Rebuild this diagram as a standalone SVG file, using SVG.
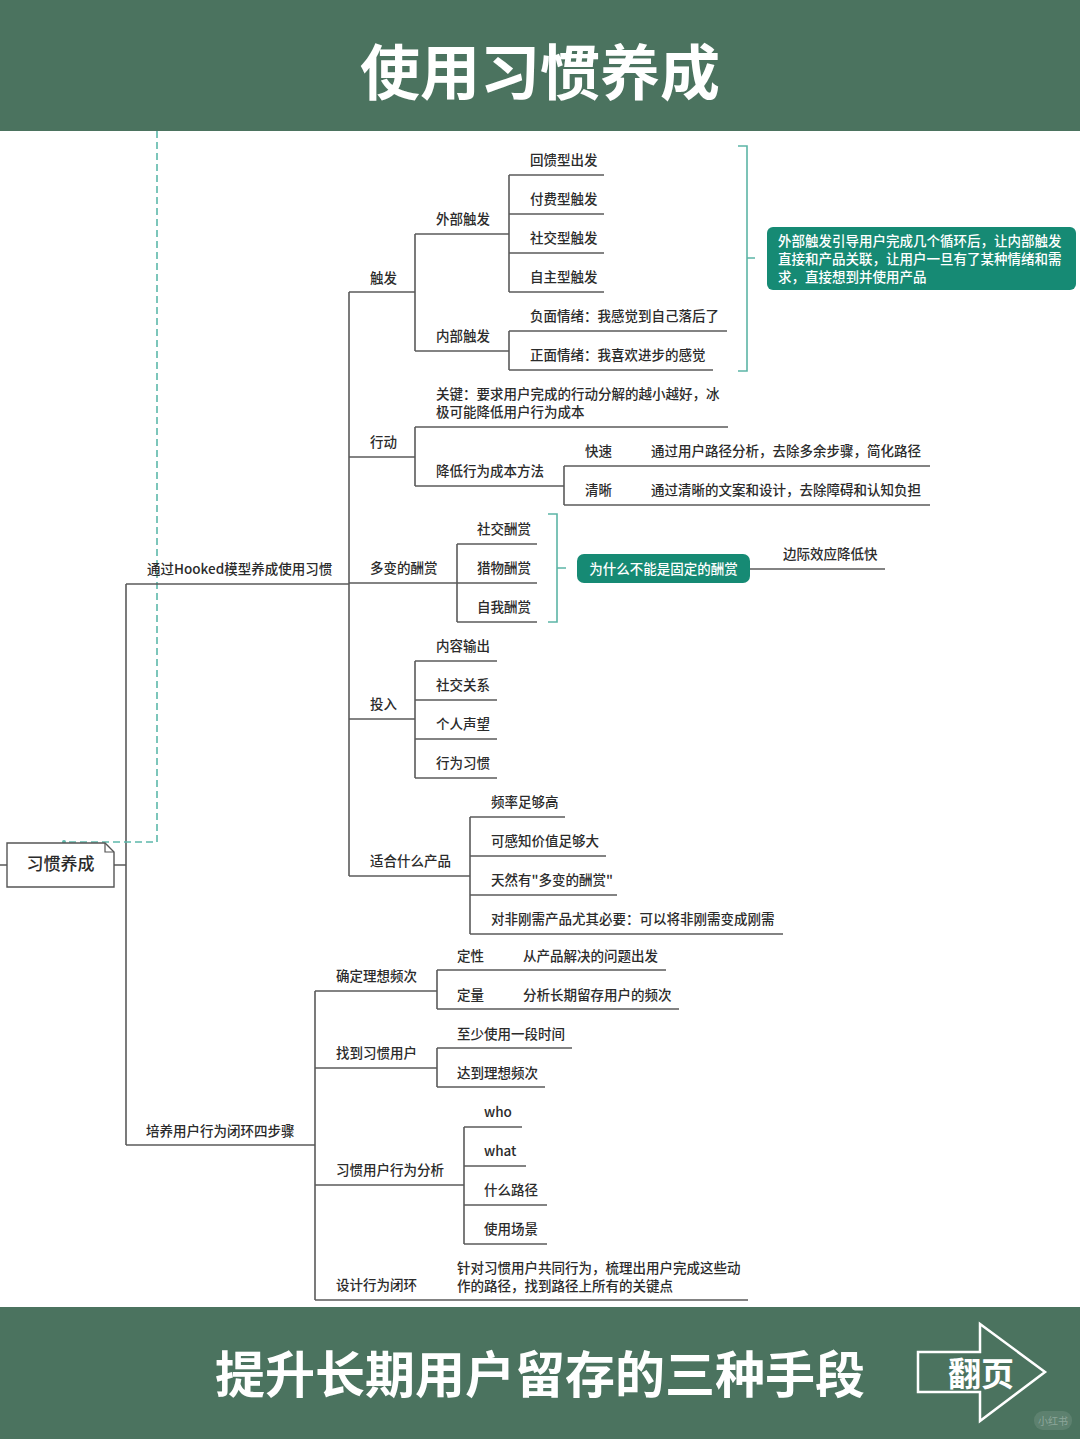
<svg xmlns="http://www.w3.org/2000/svg" width="1080" height="1439" viewBox="0 0 1080 1439">
<style>
.t{font-family:"Noto Sans CJK SC","Noto Sans",sans-serif;font-size:13.5px;fill:#2b2b2b;font-weight:500}
.w{font-family:"Noto Sans CJK SC","Noto Sans",sans-serif;font-size:13.5px;fill:#ffffff;font-weight:500}
.ln{stroke:#5a5a5a;stroke-width:1.6;fill:none}
.br{stroke:#5cb5a6;stroke-width:1.6;fill:none}
.hd{font-family:"Noto Sans CJK SC","Noto Sans",sans-serif;font-weight:700;fill:#ffffff;text-anchor:middle}
</style>
<rect x="0" y="0" width="1080" height="1439" fill="#ffffff"/>
<!-- header -->
<g id="header">
<rect x="0" y="0" width="1080" height="131" fill="#4b735f"/>
<text class="hd" x="540" y="95" font-size="60">使用习惯养成</text>
</g>
<!-- connectors -->
<g id="connectors">
<path class="ln" d="M0 865H7M114 865H126M126 584V1145"/>
<path class="ln" d="M349 292V876"/>
<path class="ln" d="M415 234V351M509 175V292M509 331V370"/>
<path class="ln" d="M415 427V486M564 466V505"/>
<path class="ln" d="M457 544V622"/>
<path class="ln" d="M415 661V778"/>
<path class="ln" d="M470 817V934"/>
<path class="ln" d="M315 991V1300M437 970V1009M437 1048V1087M464 1127V1244"/>
<path class="ln" d="M750 569H885"/>
<path d="M157 131V842H64" fill="none" stroke="#5cb8aa" stroke-width="1.6" stroke-dasharray="7 4"/>
<circle cx="64" cy="842" r="2" fill="#5cb8aa"/>
<path class="br" d="M738 146H747V371H738M747 258H755"/>
<path class="br" d="M548 514H557V622H548M557 568H566"/>
</g>
<!-- root -->
<g id="root">
<path d="M7 843H105L114 852V887H7Z" fill="#ffffff" stroke="#555" stroke-width="1.4"/>
<path d="M105 843V852H114" fill="none" stroke="#555" stroke-width="1.2"/>
<text x="60.5" y="870" text-anchor="middle" font-family="Noto Sans CJK SC,Noto Sans,sans-serif" font-size="17" fill="#2b2b2b" font-weight="500">习惯养成</text>
</g>
<!-- level 1 -->
<g id="n_hooked"><text class="t" x="147" y="574">通过Hooked模型养成使用习惯</text><path class="ln" d="M126 584H349"/></g>
<g id="n_peiyang"><text class="t" x="146" y="1136">培养用户行为闭环四步骤</text><path class="ln" d="M126 1145H315"/></g>
<!-- hooked children -->
<g id="n_chufa"><text class="t" x="370" y="283">触发</text><path class="ln" d="M349 292H415"/></g>
<g id="n_xingdong"><text class="t" x="370" y="447">行动</text><path class="ln" d="M349 457H415"/></g>
<g id="n_bianhua"><text class="t" x="370" y="573">多变的酬赏</text><path class="ln" d="M349 583H457"/></g>
<g id="n_touru"><text class="t" x="370" y="709">投入</text><path class="ln" d="M349 719H415"/></g>
<g id="n_shihe"><text class="t" x="370" y="866">适合什么产品</text><path class="ln" d="M349 876H470"/></g>
<!-- 触发 -->
<g id="n_waibu"><text class="t" x="436" y="224">外部触发</text><path class="ln" d="M415 234H509"/></g>
<g id="n_neibu"><text class="t" x="436" y="341">内部触发</text><path class="ln" d="M415 351H509"/></g>
<g id="n_huikui"><text class="t" x="530" y="165">回馈型出发</text><path class="ln" d="M509 175H604"/></g>
<g id="n_fufei"><text class="t" x="530" y="204">付费型触发</text><path class="ln" d="M509 214H604"/></g>
<g id="n_shejiao"><text class="t" x="530" y="243">社交型触发</text><path class="ln" d="M509 253H604"/></g>
<g id="n_zizhu"><text class="t" x="530" y="282">自主型触发</text><path class="ln" d="M509 292H604"/></g>
<g id="n_fumian"><text class="t" x="530" y="321">负面情绪：我感觉到自己落后了</text><path class="ln" d="M509 331H727"/></g>
<g id="n_zhengmian"><text class="t" x="530" y="360">正面情绪：我喜欢进步的感觉</text><path class="ln" d="M509 370H713"/></g>
<g id="n_callout1">
<rect x="767" y="227" width="309" height="63" rx="6" fill="#168a74"/>
<text class="w" x="778" y="246">外部触发引导用户完成几个循环后，让内部触发</text>
<text class="w" x="778" y="264">直接和产品关联，让用户一旦有了某种情绪和需</text>
<text class="w" x="778" y="282">求，直接想到并使用产品</text>
</g>
<!-- 行动 -->
<g id="n_guanjian"><text class="t" x="436" y="399">关键：要求用户完成的行动分解的越小越好，冰</text><text class="t" x="436" y="417">极可能降低用户行为成本</text><path class="ln" d="M415 427H728"/></g>
<g id="n_jiangdi"><text class="t" x="436" y="476">降低行为成本方法</text><path class="ln" d="M415 486H564"/></g>
<g id="n_kuaisu"><text class="t" x="585" y="456">快速</text><text class="t" x="651" y="456">通过用户路径分析，去除多余步骤，简化路径</text><path class="ln" d="M564 466H930"/></g>
<g id="n_qingxi"><text class="t" x="585" y="495">清晰</text><text class="t" x="651" y="495">通过清晰的文案和设计，去除障碍和认知负担</text><path class="ln" d="M564 505H930"/></g>
<!-- 多变的酬赏 -->
<g id="n_shejiaochou"><text class="t" x="477" y="534">社交酬赏</text><path class="ln" d="M457 544H537"/></g>
<g id="n_liewu"><text class="t" x="477" y="573">猎物酬赏</text><path class="ln" d="M457 583H537"/></g>
<g id="n_ziwo"><text class="t" x="477" y="612">自我酬赏</text><path class="ln" d="M457 622H537"/></g>
<g id="n_callout2">
<rect x="577" y="554" width="173" height="29" rx="7" fill="#168a74"/>
<text class="w" x="663.5" y="574" text-anchor="middle">为什么不能是固定的酬赏</text>
</g>
<g id="n_bianji"><text class="t" x="783" y="559">边际效应降低快</text></g>
<!-- 投入 -->
<g id="n_neirong"><text class="t" x="436" y="651">内容输出</text><path class="ln" d="M415 661H497"/></g>
<g id="n_shejiaoguanxi"><text class="t" x="436" y="690">社交关系</text><path class="ln" d="M415 700H497"/></g>
<g id="n_shengwang"><text class="t" x="436" y="729">个人声望</text><path class="ln" d="M415 739H497"/></g>
<g id="n_xiguan"><text class="t" x="436" y="768">行为习惯</text><path class="ln" d="M415 778H497"/></g>
<!-- 适合什么产品 -->
<g id="n_pinlv"><text class="t" x="491" y="807">频率足够高</text><path class="ln" d="M470 817H565"/></g>
<g id="n_kegan"><text class="t" x="491" y="846">可感知价值足够大</text><path class="ln" d="M470 856H606"/></g>
<g id="n_tianran"><text class="t" x="491" y="885">天然有"多变的酬赏"</text><path class="ln" d="M470 895H617"/></g>
<g id="n_feigang"><text class="t" x="491" y="924">对非刚需产品尤其必要：可以将非刚需变成刚需</text><path class="ln" d="M470 934H783"/></g>
<!-- 培养 -->
<g id="n_queding"><text class="t" x="336" y="981">确定理想频次</text><path class="ln" d="M315 991H437"/></g>
<g id="n_dingxing"><text class="t" x="457" y="961">定性</text><text class="t" x="523" y="961">从产品解决的问题出发</text><path class="ln" d="M437 970H666"/></g>
<g id="n_dingliang"><text class="t" x="457" y="1000">定量</text><text class="t" x="523" y="1000">分析长期留存用户的频次</text><path class="ln" d="M437 1009H679"/></g>
<g id="n_zhaodao"><text class="t" x="336" y="1058">找到习惯用户</text><path class="ln" d="M315 1068H437"/></g>
<g id="n_zhishao"><text class="t" x="457" y="1039">至少使用一段时间</text><path class="ln" d="M437 1048H572"/></g>
<g id="n_dadao"><text class="t" x="457" y="1078">达到理想频次</text><path class="ln" d="M437 1087H545"/></g>
<g id="n_fenxi"><text class="t" x="336" y="1175">习惯用户行为分析</text><path class="ln" d="M315 1185H464"/></g>
<g id="n_who"><text class="t" x="484" y="1117">who</text><path class="ln" d="M464 1127H522"/></g>
<g id="n_what"><text class="t" x="484" y="1156">what</text><path class="ln" d="M464 1166H526"/></g>
<g id="n_lujing"><text class="t" x="484" y="1195">什么路径</text><path class="ln" d="M464 1205H547"/></g>
<g id="n_changjing"><text class="t" x="484" y="1234">使用场景</text><path class="ln" d="M464 1244H547"/></g>
<g id="n_sheji"><text class="t" x="336" y="1290">设计行为闭环</text><path class="ln" d="M315 1300H748"/></g>
<g id="n_zhendui"><text class="t" x="457" y="1273">针对习惯用户共同行为，梳理出用户完成这些动</text><text class="t" x="457" y="1291">作的路径，找到路径上所有的关键点</text></g>
<!-- footer -->
<g id="footer">
<rect x="0" y="1307" width="1080" height="132" fill="#4b735f"/>
<text class="hd" x="540" y="1393" font-size="50">提升长期用户留存的三种手段</text>
<path d="M918 1352H980V1324L1045 1372L980 1421V1392H918Z" fill="none" stroke="#ffffff" stroke-width="2.5" stroke-linejoin="miter"/>
<text x="981" y="1386" text-anchor="middle" font-family="Noto Sans CJK SC,Noto Sans,sans-serif" font-size="33" font-weight="700" fill="#ffffff">翻页</text>
<rect x="1034" y="1411" width="38" height="19" rx="9" fill="#ffffff" fill-opacity="0.1"/>
<text x="1053" y="1425" text-anchor="middle" font-family="Noto Sans CJK SC,Noto Sans,sans-serif" font-size="10" fill="#ffffff" fill-opacity="0.3">小红书</text>
</g>
</svg>
